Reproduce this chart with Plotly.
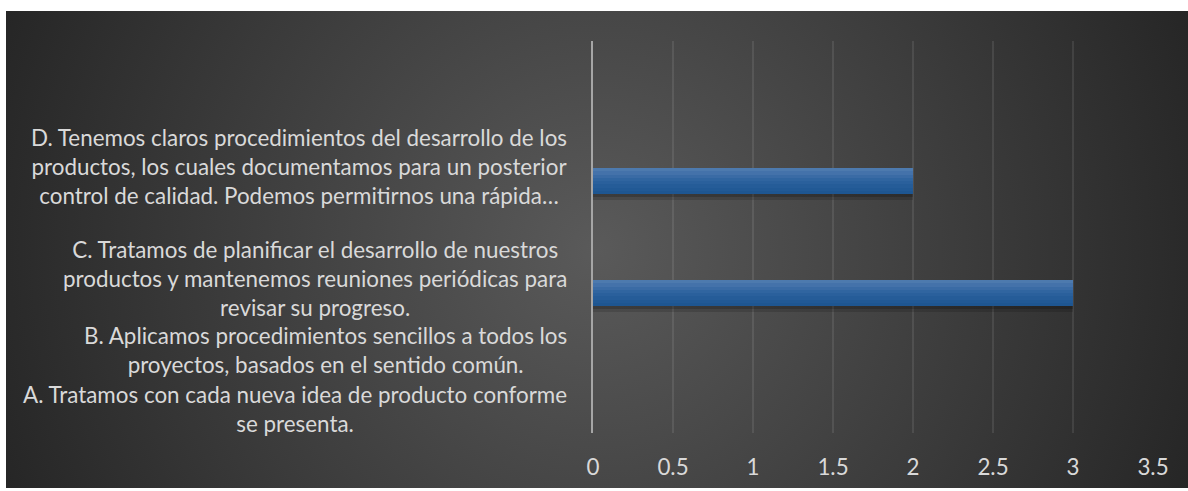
import base64
import plotly.graph_objects as go

# ---------------- data ----------------
categories = ["A", "B", "C", " ", "D", "  ", "   "]
values = [0, 0, 3, None, 2, None, None]
labels = {
    "A": "A. Tratamos con cada nueva idea de producto conforme<br>se presenta.",
    "B": "B. Aplicamos procedimientos sencillos a todos los<br>proyectos, basados en el sentido común.",
    "C": "C. Tratamos de planificar el desarrollo de nuestros<br>productos y mantenemos reuniones periódicas para<br>revisar su progreso.",
    "D": "D. Tenemos claros procedimientos del desarrollo de los<br>productos, los cuales documentamos para un posterior<br>control de calidad. Podemos permitirnos una rápida…",
}
label_shift = {"A": -4, "B": -1, "C": 15, "D": 15}
x_ticks = [0, 0.5, 1, 1.5, 2, 2.5, 3, 3.5]

# ---------------- layout geometry ----------------
W, H = 1188, 491
ML, MR, MT, MB = 593, 35, 41, 58
PW, PH = W - ML - MR, H - MT - MB

FONT = "Lato, 'Open Sans', sans-serif"
TXT = "#d9d9d9"
FS = 22.4

fig = go.Figure()

bar_w = 0.464
half = bar_w / 2
# shadow below bars
shadow = [("rgba(0,0,0,0.30)", 0.05), ("rgba(0,0,0,0.14)", 0.05)]
off = -half
for col, h in shadow:
    off -= h
    fig.add_trace(go.Bar(y=categories, x=values, orientation="h", width=h, offset=off,
                         marker=dict(color=col, line=dict(width=0)), hoverinfo="skip",
                         showlegend=False))
# gradient bar strips, top -> bottom
grad = ["#4d7aae", "#4472aa", "#3a6ba5", "#3065a0", "#2a609c", "#255c98", "#215995", "#1e5691"]
n = len(grad)
h = bar_w / n
for i, col in enumerate(grad):
    fig.add_trace(go.Bar(y=categories, x=values, orientation="h", width=h,
                         offset=half - (i + 1) * h,
                         marker=dict(color=col, line=dict(width=0)),
                         hoverinfo="skip", showlegend=False))

# background radial gradient (chart area)
bx0, by0, bx1, by1 = 6, 11, 1188, 488
bw, bh = bx1 - bx0, by1 - by0
svg = (f"<svg xmlns='http://www.w3.org/2000/svg' width='{bw}' height='{bh}' viewBox='0 0 {bw} {bh}'>"
       f"<defs><radialGradient id='g' gradientUnits='userSpaceOnUse' cx='{bw/2}' cy='{bh/2}' r='{((bw/2)**2+(bh/2)**2)**0.5:.1f}'>"
       "<stop offset='0' stop-color='#5a5a5a'/><stop offset='1' stop-color='#262626'/>"
       "</radialGradient></defs>"
       f"<rect width='{bw}' height='{bh}' fill='url(#g)'/></svg>")
src = "data:image/svg+xml;base64," + base64.b64encode(svg.encode()).decode()
fig.add_layout_image(dict(source=src, xref="paper", yref="paper",
                          x=(bx0 - ML) / PW, y=(H - MB - by0) / PH,
                          sizex=bw / PW, sizey=bh / PH,
                          xanchor="left", yanchor="top", sizing="stretch", layer="below"))

for k, txt in labels.items():
    fig.add_annotation(x=(569 - ML) / PW, xref="paper", y=k, yref="y", text=txt,
                       xanchor="right", yanchor="middle", align="center", showarrow=False,
                       yshift=label_shift[k], font=dict(family=FONT, size=FS, color=TXT))

fig.update_layout(
    width=W, height=H, margin=dict(l=ML, r=MR, t=MT, b=MB, pad=0),
    paper_bgcolor="white", plot_bgcolor="rgba(0,0,0,0)",
    barmode="overlay", bargap=0, showlegend=False,
    font=dict(family=FONT, color=TXT, size=FS),
)
fig.update_xaxes(range=[0, 3.5], tickvals=x_ticks, ticktext=[f"{v:g}" for v in x_ticks],
                 showgrid=True, gridcolor="rgba(255,255,255,0.09)", gridwidth=1.5,
                 zeroline=False, showline=False, ticks="outside", ticklen=14,
                 tickcolor="rgba(0,0,0,0)", tickfont=dict(family=FONT, size=FS, color=TXT),
                 fixedrange=True)
fig.update_yaxes(type="category", categoryorder="array", categoryarray=categories,
                 range=[-0.5, len(categories) - 0.5], showticklabels=False, showgrid=False,
                 zeroline=False, showline=True, linecolor="#a6a6a6", linewidth=2,
                 ticks="", fixedrange=True)

fig.write_html("out.html", config={"displayModeBar": False},
               post_script="document.body.style.margin='0px';document.body.style.overflow='hidden';")
